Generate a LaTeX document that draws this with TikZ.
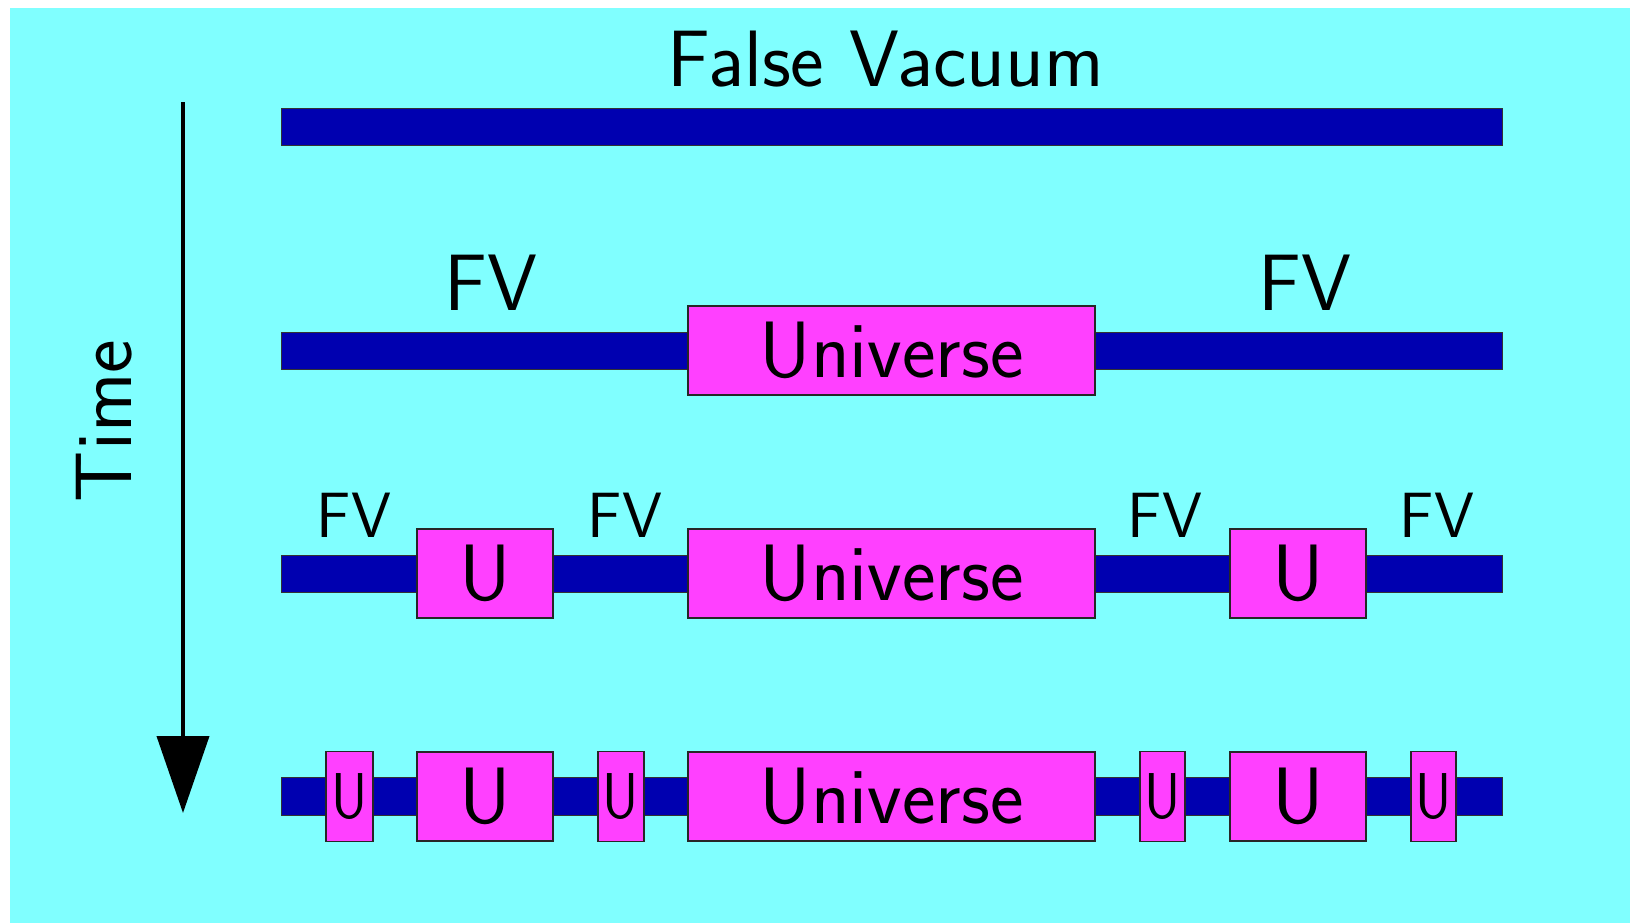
\documentclass[tikz,border=0pt]{standalone}
\usepackage{fontspec}
\usetikzlibrary{arrows.meta}
\definecolor{bgcyan}{RGB}{128,255,255}
\definecolor{fvblue}{RGB}{0,0,176}
\definecolor{umag}{RGB}{255,64,255}
\tikzset{
  fvbar/.style={draw=black!80, line width=0.5pt, fill=fvblue, inner sep=0pt,
    minimum width=610.5pt, minimum height=18.75pt},
  ubox/.style={draw=black!85, line width=0.75pt, fill=umag, inner sep=0pt,
    minimum height=44.5pt, font=\sffamily\fontsize{40}{44}\selectfont},
  smallubox/.style={ubox, minimum height=45pt, font=\sffamily\fontsize{36}{40}\selectfont},
  bigtext/.style={inner sep=0pt, font=\sffamily\fontsize{40}{44}\selectfont},
  smalltext/.style={inner sep=0pt, font=\sffamily\fontsize{32}{36}\selectfont},
  timearrow/.style={line width=2pt, -{Triangle[width=26pt,length=38.5pt]}}
}
\begin{document}
\begin{tikzpicture}[x=0.5pt,y=-0.5pt]
\useasboundingbox (0,0) rectangle (1630,923);
\fill[white] (0,0) rectangle (1630,923);
\fill[bgcyan] (10,8) rectangle (1630,923);

% title
\node[bigtext, anchor=base] (title) at (885.5,86) {False Vacuum};

% time arrow
\coordinate (tstart) at (183,102);
\coordinate (tend) at (183,813);
\draw[timearrow] (tstart) -- (tend);
\node[bigtext, rotate=90] (time) at (104,421) {Time};

% row 1
\node[fvbar] (bar1) at (891.5,127) {};

% row 2
\node[fvbar] (bar2) at (891.5,351) {};
\node[ubox, minimum width=203.5pt] (u2) at (891.5,350.5) {Universe};
\node[bigtext, anchor=base] (fv2a) at (491,310) {FV};
\node[bigtext, anchor=base] (fv2b) at (1305,310) {FV};

% row 3
\node[fvbar] (bar3) at (891.5,574) {};
\node[ubox, minimum width=68pt] (u3a) at (485,573.5) {U};
\node[ubox, minimum width=203.5pt] (u3b) at (891.5,573.5) {Universe};
\node[ubox, minimum width=68pt] (u3c) at (1298,573.5) {U};
\node[smalltext, anchor=base] (fv3a) at (354,537) {FV};
\node[smalltext, anchor=base] (fv3b) at (625,537) {FV};
\node[smalltext, anchor=base] (fv3c) at (1165,537) {FV};
\node[smalltext, anchor=base] (fv3d) at (1437,537) {FV};

% row 4
\node[fvbar] (bar4) at (891.5,796.5) {};
\node[smallubox, minimum width=23.5pt] (u4a) at (349.5,796.7) {\scalebox{0.78}[0.9]{U}};
\node[ubox, minimum width=68pt] (u4b) at (485,796.7) {U};
\node[smallubox, minimum width=23pt] (u4c) at (621,796.7) {\scalebox{0.78}[0.9]{U}};
\node[ubox, minimum width=203.5pt] (u4d) at (891.5,796.7) {Universe};
\node[smallubox, minimum width=22.5pt] (u4e) at (1162.5,796.7) {\scalebox{0.78}[0.9]{U}};
\node[ubox, minimum width=68pt] (u4f) at (1298,796.7) {U};
\node[smallubox, minimum width=22.5pt] (u4g) at (1433.5,796.7) {\scalebox{0.78}[0.9]{U}};
\end{tikzpicture}
\end{document}
